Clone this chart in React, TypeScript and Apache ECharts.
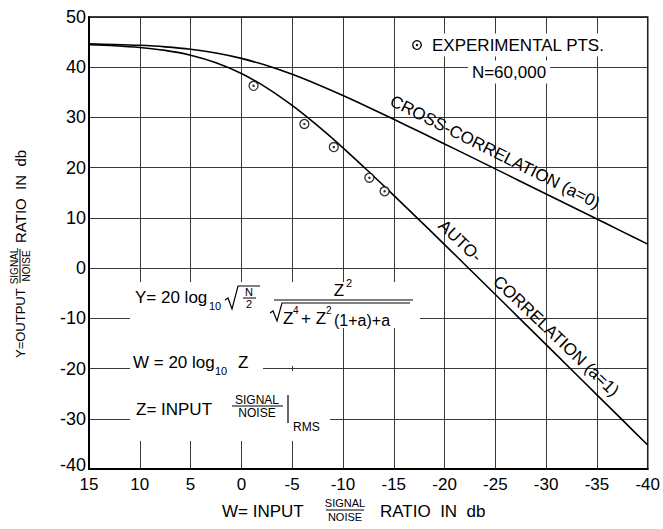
import React, { useEffect, useRef } from "react";
import * as echarts from "echarts";

const FONT = "Liberation Sans";

// W = input signal/noise ratio (db)
const W_VALUES = [15, 12.5, 10, 7.5, 5, 2.5, 0, -2.5, -5, -7.5, -10, -12.5, -15, -17.5, -20, -22.5, -25, -27.5, -30, -32.5, -35, -37.5, -40];
// Cross-correlation (a=0) output ratio in db
const CROSS_CORR = [44.64, 44.53, 44.36, 44.06, 43.58, 42.83, 41.76, 40.33, 38.58, 36.56, 34.36, 32.03, 29.63, 27.19, 24.73, 22.25, 19.76, 17.26, 14.77, 12.27, 9.77, 7.27, 4.77];
// Auto-correlation (a=1) output ratio in db
const AUTO_CORR = [44.5, 44.29, 43.94, 43.35, 42.39, 40.89, 38.75, 35.9, 32.39, 28.35, 23.95, 19.29, 14.49, 9.61, 4.69, -0.27, -5.25, -10.25, -15.23, -20.23, -25.23, -30.23, -35.23];
// Experimental points
const EXP_W = [-1.2, -6.2, -9.1, -12.6, -14.1];
const EXP_Y = [36.3, 28.7, 24.1, 18.0, 15.3];

const X_MIN = -40;
const X_MAX = 15;
const X_STEP = 5;
const Y_MIN = -40;
const Y_MAX = 50;
const Y_STEP = 10;

function txt(text: string, x: number, y: number, size: number, extra: any = {}, elExtra: any = {}) {
  const align = extra.align || "left";
  const valign = extra.verticalAlign || "middle";
  return {
    type: "text",
    x,
    y,
    z: 20,
    ...elExtra,
    style: {
      text,
      fontSize: size,
      fontFamily: FONT,
      fill: "#000",
      align,
      verticalAlign: valign,
      textAlign: align,
      textVerticalAlign: valign,
      ...extra,
    },
  };
}

function ln(x1: number, y1: number, x2: number, y2: number, w = 1) {
  return { type: "line", z: 20, shape: { x1, y1, x2, y2 }, style: { stroke: "#000", lineWidth: w } };
}

function poly(points: number[][], w = 1) {
  return { type: "polyline", z: 20, shape: { points }, style: { stroke: "#000", lineWidth: w, fill: null } };
}

function whiteRect(x: number, y: number, width: number, height: number) {
  return { type: "rect", z: 1, shape: { x, y, width, height }, style: { fill: "#fff" } };
}

export default function App() {
  const ref = useRef<HTMLDivElement>(null);
  useEffect(() => {
    if (!ref.current) return;
    const chart = echarts.init(ref.current, null, { renderer: "svg" });

    const graphic: any[] = [
      // white patches behind formula annotations
      whiteRect(130, 282, 290, 46),
      whiteRect(130, 328, 172, 38),
      whiteRect(130, 361, 133, 14),
      whiteRect(130, 371, 172, 50),
      whiteRect(130, 419, 200, 22),

      // legend
      { type: "circle", z: 20, shape: { cx: 417, cy: 45, r: 4.3 }, style: { fill: "#fff", stroke: "#000", lineWidth: 1.3 } },
      { type: "circle", z: 21, shape: { cx: 417, cy: 45, r: 1.2 }, style: { fill: "#000" } },
      txt("EXPERIMENTAL PTS.", 429, 45, 17, { backgroundColor: "#fff", padding: [3, 3] }),
      txt("N=60,000", 509, 72, 17, { align: "center", backgroundColor: "#fff", padding: [3, 4] }),

      // curve labels
      txt("CROSS-CORRELATION (a=0)", 495, 152, 17, { align: "center" }, { rotation: -0.465 }),
      txt("AUTO-", 460, 241, 17, { align: "center" }, { rotation: -0.76 }),
      txt("CORRELATION (a=1)", 556, 336, 17, { align: "center" }, { rotation: -0.76 }),

      // Y formula
      txt("Y= 20 log", 135, 297, 17),
      txt("10", 209, 306, 11),
      poly([[225, 300], [228, 298], [232, 309], [238, 286], [260, 286]], 1.2),
      txt("N", 249, 292, 11, { align: "center" }),
      ln(243, 298, 256, 298, 1),
      txt("2", 249, 304, 11, { align: "center" }),
      txt("Z", 339, 290, 17, { align: "center" }),
      txt("2", 346, 283, 11),
      ln(274, 300, 413, 300, 1.2),
      poly([[270, 313], [273, 311], [277, 321], [282, 303], [410, 303]], 1.2),
      txt("Z", 283, 318, 17),
      txt("4", 293, 310, 10),
      txt("+ Z", 301, 318, 17),
      txt("2", 326, 310, 10),
      txt("(1+a)+a", 334, 320, 16),

      // W formula
      txt("W = 20 log", 133, 362, 17),
      txt("10", 215, 371, 11),
      txt("Z", 238, 362, 17),

      // Z formula
      txt("Z= INPUT", 136, 409, 17),
      txt("SIGNAL", 257, 400, 12, { align: "center" }),
      ln(232, 406, 283, 406, 1.2),
      txt("NOISE", 257, 413, 12, { align: "center" }),
      ln(288, 395, 288, 423, 1.2),
      txt("RMS", 293, 427, 12),

      // x axis title
      txt("W= INPUT", 222, 511, 17),
      txt("SIGNAL", 345, 503, 11, { align: "center" }),
      ln(326, 510, 364, 510, 1.2),
      txt("NOISE", 345, 517, 11, { align: "center" }),
      txt("RATIO  IN  db", 380, 511, 17),

      // y axis title (rotated group)
      {
        type: "group",
        x: 20,
        y: 358,
        rotation: Math.PI / 2,
        children: [
          txt("Y=OUTPUT", 0, 0, 13),
          txt("SIGNAL", 92, -1, 10, { align: "center", verticalAlign: "bottom" }),
          ln(75, 0, 109, 0, 1),
          txt("NOISE", 92, 1, 10, { align: "center", verticalAlign: "top" }),
          txt("RATIO  IN  db", 115, 0, 15),
        ],
      },
    ];

    const option: any = {
      animation: false,
      backgroundColor: "#fff",
      grid: {
        left: 89,
        top: 17,
        width: 561,
        height: 452,
        show: true,
        borderColor: "#000",
        borderWidth: 1.5,
        backgroundColor: "transparent",
      },
      xAxis: {
        type: "value",
        min: X_MIN,
        max: X_MAX,
        interval: X_STEP,
        inverse: true,
        axisLine: { show: true, onZero: false, lineStyle: { color: "#000", width: 2 } },
        axisTick: { show: false },
        axisLabel: { color: "#000", fontSize: 17, fontFamily: FONT, margin: 7 },
        splitLine: { show: true, lineStyle: { color: "#222", width: 0.9 } },
      },
      yAxis: {
        type: "value",
        min: Y_MIN,
        max: Y_MAX,
        interval: Y_STEP,
        axisLine: { show: true, onZero: false, lineStyle: { color: "#000", width: 2 } },
        axisTick: { show: false },
        axisLabel: {
          color: "#000",
          fontSize: 18,
          fontFamily: FONT,
          margin: 3,
          formatter: (v: number) => (v === Y_MIN ? `{low|${v}}` : `${v}`),
          rich: { low: { fontSize: 18, fontFamily: FONT, color: "#000", padding: [0, 0, 8, 0] } },
        },
        splitLine: { show: true, lineStyle: { color: "#222", width: 0.9 } },
      },
      series: [
        {
          name: "Cross-correlation (a=0)",
          type: "line",
          data: W_VALUES.map((w, i) => [w, CROSS_CORR[i]]),
          smooth: 0.3,
          showSymbol: false,
          lineStyle: { color: "#000", width: 1.6 },
          z: 5,
        },
        {
          name: "Auto-correlation (a=1)",
          type: "line",
          data: W_VALUES.map((w, i) => [w, AUTO_CORR[i]]),
          smooth: 0.3,
          showSymbol: false,
          lineStyle: { color: "#000", width: 1.6 },
          z: 5,
        },
        {
          name: "Experimental pts",
          type: "scatter",
          data: EXP_W.map((w, i) => [w, EXP_Y[i]]),
          symbol: "circle",
          symbolSize: 9,
          itemStyle: { color: "#fff", borderColor: "#000", borderWidth: 1.3 },
          z: 6,
        },
        {
          name: "Experimental pts dot",
          type: "scatter",
          data: EXP_W.map((w, i) => [w, EXP_Y[i]]),
          symbol: "circle",
          symbolSize: 2.5,
          itemStyle: { color: "#000" },
          z: 7,
        },
      ],
      graphic,
    };

    chart.setOption(option);
    return () => chart.dispose();
  }, []);

  return (
    <div
      ref={ref}
      style={{ position: "absolute", left: 0, top: 0, width: 663, height: 529, background: "#fff" }}
    />
  );
}
